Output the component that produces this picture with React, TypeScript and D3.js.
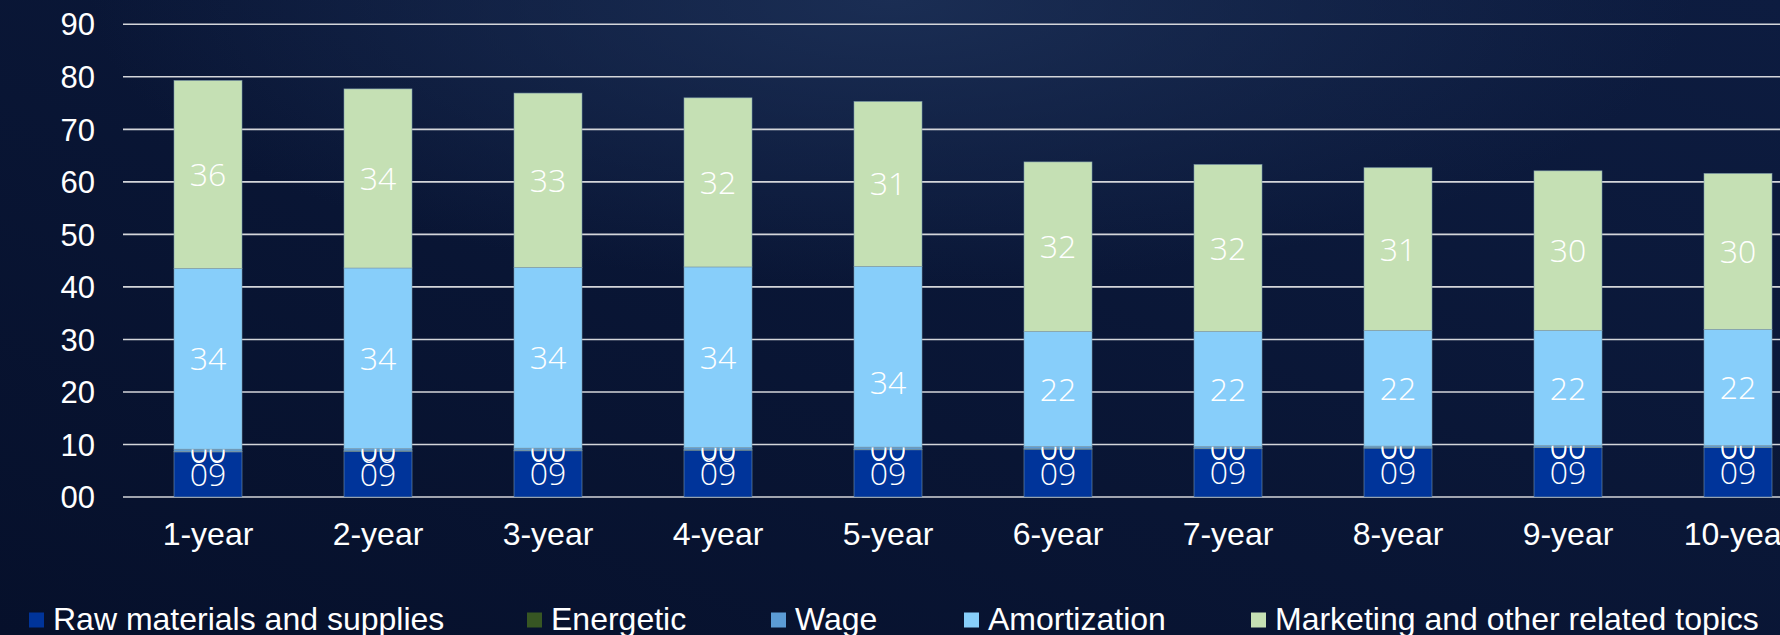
import React, { useEffect, useRef } from 'react'
import * as d3 from 'd3'

// chart values
const years = ['1-year', '2-year', '3-year', '4-year', '5-year', '6-year', '7-year', '8-year', '9-year', '10-year']
const rawMaterials = [8.6, 8.7, 8.8, 8.9, 9.0, 9.1, 9.2, 9.3, 9.4, 9.4]
const energetic = [0.1, 0.1, 0.1, 0.1, 0.1, 0.1, 0.1, 0.1, 0.1, 0.1]
const wage = [0.4, 0.4, 0.4, 0.4, 0.4, 0.4, 0.3, 0.3, 0.3, 0.3]
const amortization = [34.4, 34.4, 34.4, 34.4, 34.4, 21.9, 21.9, 22.0, 21.9, 22.1]
const marketing = [35.8, 34.1, 33.2, 32.2, 31.4, 32.3, 31.8, 31.0, 30.4, 29.7]
const yTicks = [0, 10, 20, 30, 40, 50, 60, 70, 80, 90]

const seriesNames = ['Raw materials and supplies', 'Energetic', 'Wage', 'Amortization', 'Marketing and other related topics']
const seriesColors = ['#00349a', '#375623', '#5b9bd5', '#87cefa', '#c5e0b4']
const legendX = [29, 527, 771, 964, 1251]

const W = 1780
const H = 635

const App = () => {
  const svgRef = useRef<SVGSVGElement | null>(null)

  useEffect(() => {
    document.body.style.margin = '0'
    const svg = d3.select(svgRef.current)
    svg.selectAll('*').remove()

    const rows = years.map((year, i) => ({
      year,
      [seriesNames[0]]: rawMaterials[i],
      [seriesNames[1]]: energetic[i],
      [seriesNames[2]]: wage[i],
      [seriesNames[3]]: amortization[i],
      [seriesNames[4]]: marketing[i]
    }))
    const stacked = d3.stack<any>().keys(seriesNames)(rows)

    const x = d3
      .scaleBand()
      .domain(years)
      .range([123, 1823])
      .paddingInner(0.6)
      .paddingOuter(0.3)
    const y = d3.scaleLinear().domain([0, 90]).range([497, 24.3])
    const fmtTick = d3.format('02d')
    const fmtLabel = d3.format('02.0f')

    // background
    const defs = svg.append('defs')
    const bg = defs
      .append('linearGradient')
      .attr('id', 'bg')
      .attr('x1', 0)
      .attr('y1', 1)
      .attr('x2', 1)
      .attr('y2', 0)
    bg.append('stop').attr('offset', '0%').attr('stop-color', '#06102b')
    bg.append('stop').attr('offset', '100%').attr('stop-color', '#0d1c40')
    const glow = defs
      .append('radialGradient')
      .attr('id', 'glow')
      .attr('cx', 0.5)
      .attr('cy', 0)
      .attr('r', 0.45)
    glow.append('stop').attr('offset', '0%').attr('stop-color', '#1d3158').attr('stop-opacity', 0.85)
    glow.append('stop').attr('offset', '100%').attr('stop-color', '#1d3158').attr('stop-opacity', 0)

    svg.append('rect').attr('width', W).attr('height', H).attr('fill', 'url(#bg)')
    svg.append('rect').attr('width', W).attr('height', H).attr('fill', 'url(#glow)')

    // gridlines
    svg
      .selectAll('line.grid')
      .data(yTicks)
      .enter()
      .append('line')
      .attr('x1', 123)
      .attr('x2', W)
      .attr('y1', d => y(d))
      .attr('y2', d => y(d))
      .attr('stroke', '#d4d6da')
      .attr('stroke-width', 1.6)

    svg
      .selectAll('text.ytick')
      .data(yTicks)
      .enter()
      .append('text')
      .text(d => fmtTick(d))
      .attr('x', 95)
      .attr('y', d => y(d))
      .attr('dy', '0.36em')
      .attr('text-anchor', 'end')
      .attr('font-family', 'Liberation Sans, Arial, sans-serif')
      .attr('font-size', 31)
      .attr('fill', '#ffffff')

    // bars
    const groups = svg
      .selectAll('g.series')
      .data(stacked)
      .enter()
      .append('g')
      .attr('fill', (_, i) => seriesColors[i])

    groups
      .selectAll('rect')
      .data(d => d)
      .enter()
      .append('rect')
      .attr('x', d => x(d.data.year) as number)
      .attr('width', x.bandwidth())
      .attr('y', d => y(d[1]))
      .attr('height', d => y(d[0]) - y(d[1]))
      .attr('stroke', '#7f9cae')
      .attr('stroke-width', 0.8)
      .attr('stroke-opacity', 0.7)

    // value labels
    groups.each(function (s, si) {
      d3.select(this)
        .selectAll('text')
        .data(s)
        .enter()
        .append('text')
        .text(d => fmtLabel(d[1] - d[0]))
        .attr('x', d => (x(d.data.year) as number) + x.bandwidth() / 2)
        .attr('y', (d, i) => y((d[0] + d[1]) / 2) + (si === 3 && i === 4 ? 26 : 0))
        .attr('dy', '0.36em')
        .attr('text-anchor', 'middle')
        .attr('font-family', 'Open Sans, Lato, sans-serif')
        .attr('font-weight', 300)
        .attr('font-size', 32)
        .attr('fill', '#ffffff')
    })

    // category labels
    svg
      .selectAll('text.xlab')
      .data(years)
      .enter()
      .append('text')
      .text(d => d)
      .attr('x', d => (x(d) as number) + x.bandwidth() / 2)
      .attr('y', 545)
      .attr('text-anchor', 'middle')
      .attr('font-family', 'Liberation Sans, Arial, sans-serif')
      .attr('font-size', 32)
      .attr('fill', '#ffffff')

    // legend
    const legend = svg
      .selectAll('g.legend')
      .data(seriesNames)
      .enter()
      .append('g')
      .attr('transform', (_, i) => `translate(${legendX[i]},0)`)
    legend
      .append('rect')
      .attr('x', 0)
      .attr('y', 612.5)
      .attr('width', 15)
      .attr('height', 15)
      .attr('fill', (_, i) => seriesColors[i])
    legend
      .append('text')
      .text(d => d)
      .attr('x', 24)
      .attr('y', 630)
      .attr('font-family', 'Liberation Sans, Arial, sans-serif')
      .attr('font-size', 32)
      .attr('fill', '#ffffff')
  }, [])

  return (
    <svg
      ref={svgRef}
      width={W}
      height={H}
      style={{ position: 'absolute', left: 0, top: 0, display: 'block' }}
    />
  )
}

export default App
